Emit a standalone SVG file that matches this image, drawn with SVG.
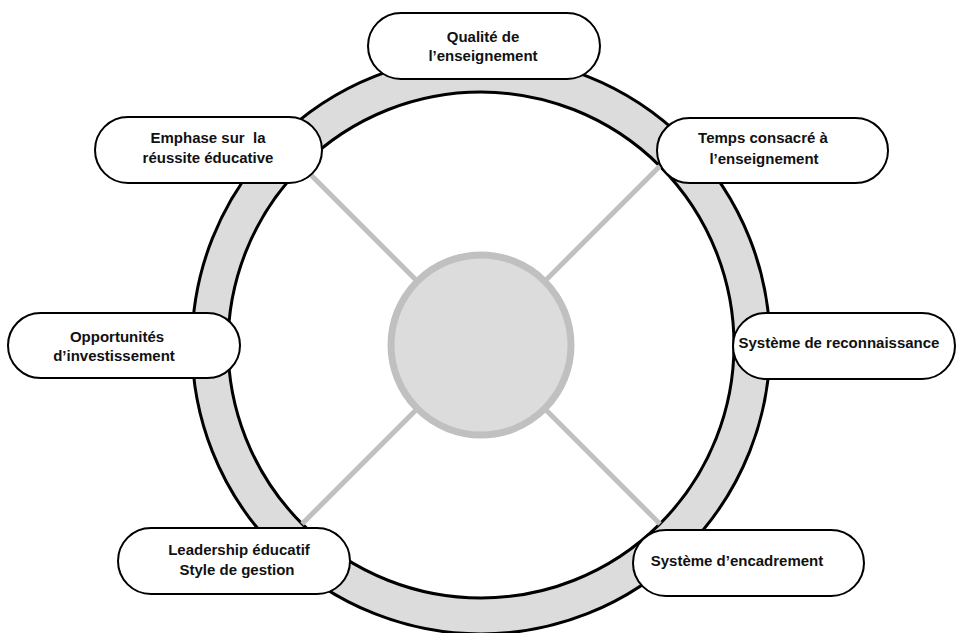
<svg xmlns="http://www.w3.org/2000/svg" width="957" height="633" viewBox="0 0 957 633">
<style>
.ring{fill:#dcdcdc;stroke:#000;stroke-width:3}
.hole{fill:#fff;stroke:#000;stroke-width:3}
.spoke{stroke:#c0c0c0;stroke-width:5;fill:none}
.hub{fill:#dcdcdc;stroke:#c0c0c0;stroke-width:7}
.box{fill:#fff;stroke:#000;stroke-width:2}
.lbl{font-family:"Liberation Sans",Arial,sans-serif;font-weight:bold;font-size:15px;fill:#111;text-anchor:middle;white-space:pre}
</style>
<rect width="957" height="633" fill="#fff"/>
<g id="wheel">
<circle class="ring" cx="481" cy="345" r="289"/>
<circle class="hole" cx="481" cy="345" r="253"/>
</g>
<g id="connectors">
<line class="spoke" x1="302" y1="166" x2="481" y2="345"/>
<line class="spoke" x1="660" y1="166" x2="481" y2="345"/>
<line class="spoke" x1="302" y1="524" x2="481" y2="345"/>
<line class="spoke" x1="660" y1="524" x2="481" y2="345"/>
</g>
<g id="hub">
<circle class="hub" cx="481" cy="345" r="90"/>
</g>
<g id="n-qualite">
<rect class="box" x="368" y="13" width="232" height="66" rx="33"/>
<text class="lbl" x="483" y="42">Qualité de</text>
<text class="lbl" x="483" y="61">l’enseignement</text>
</g>
<g id="n-emphase">
<rect class="box" x="95" y="117" width="227" height="66" rx="33"/>
<text class="lbl" x="208" y="143">Emphase sur  la</text>
<text class="lbl" x="208" y="163">réussite éducative</text>
</g>
<g id="n-temps">
<rect class="box" x="657" y="118" width="231" height="65" rx="32.5"/>
<text class="lbl" x="763" y="143">Temps consacré à</text>
<text class="lbl" x="764" y="164">l’enseignement</text>
</g>
<g id="n-opportunites">
<rect class="box" x="8" y="313" width="232" height="65" rx="32.5"/>
<text class="lbl" x="117" y="342">Opportunités</text>
<text class="lbl" x="114" y="361">d’investissement</text>
</g>
<g id="n-reconnaissance">
<rect class="box" x="733" y="313" width="222" height="66" rx="33"/>
<text class="lbl" x="839" y="348">Système de reconnaissance</text>
</g>
<g id="n-leadership">
<rect class="box" x="118" y="528" width="232" height="66" rx="33"/>
<text class="lbl" x="239" y="555">Leadership éducatif</text>
<text class="lbl" x="237" y="575">Style de gestion</text>
</g>
<g id="n-encadrement">
<rect class="box" x="633" y="530" width="231" height="66" rx="33"/>
<text class="lbl" x="737" y="566">Système d’encadrement</text>
</g>
</svg>
